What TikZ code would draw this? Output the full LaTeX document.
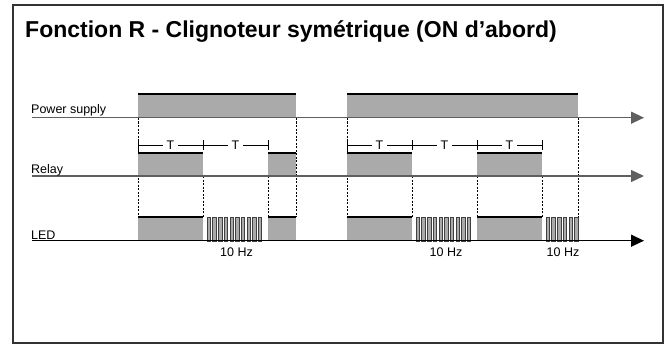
\documentclass[tikz,border=0pt]{standalone}
\usepackage{fontspec}
\setmainfont{Liberation Sans}
\usetikzlibrary{arrows.meta}

\definecolor{sigfill}{RGB}{170,170,170}
\definecolor{axisgray}{RGB}{95,95,95}

\tikzset{
  frame/.style={draw=black!80, line width=1.5pt},
  axis/.style={line width=1.3pt, -{Triangle[length=13pt,width=12pt]}},
  guide/.style={line width=0.7pt, dash pattern=on 2pt off 1.5pt},
  level/.style={fill=sigfill},
  edge/.style={line width=1.4pt},
  pulse/.style={fill=sigfill, draw=black!75, line width=0.6pt},
  lbl/.style={font=\fontsize{12.5}{14}\selectfont, inner sep=0pt},
  span/.style={line width=0.8pt},
}

% a high level of a signal: x from, x to, y top, y bottom
\newcommand{\onbox}[4]{%
  \fill[level] (#1,#3) rectangle (#2,#4);
  \draw[edge] (#1,#3) -- (#2,#3);
}
% 10 Hz blinking: x start, number of pulses
\newcommand{\blink}[2]{%
  \foreach \i in {1,...,#2}
    \draw[pulse] ({#1+4+(\i-1)*5.7},217) rectangle ++(3.4,24);
}
% period bracket labelled T
\newcommand{\tspan}[2]{%
  \draw[span] (#1,140) -- (#1,150) (#2,140) -- (#2,150);
  \draw[span] (#1,145) -- node[lbl, fill=white, inner xsep=3.5pt] {T} (#2,145);
}

\begin{document}
\begin{tikzpicture}[x=1pt, y=-1pt]
  \useasboundingbox (0,0) rectangle (670,345);
  \draw[frame] (13,5) rectangle (663,343);

  \node[anchor=base west, inner sep=0pt, font=\fontsize{23}{26}\selectfont\bfseries]
    (title) at (25,37.7) {Fonction R - Clignoteur symétrique (ON d’abord)};

  % axes
  \coordinate (ps-a) at (32,117.7);    \coordinate (ps-b) at (644,117.7);
  \coordinate (relay-a) at (32,176);   \coordinate (relay-b) at (644,176);
  \coordinate (led-a) at (32,240.7);   \coordinate (led-b) at (644,240.7);

  % guides
  \foreach \x in {138,296,347,578}
    \draw[guide] (\x,118) -- (\x,217);
  \foreach \x in {203,268,412,477,542}
    \draw[guide] (\x,176) -- (\x,217);

  % power supply
  \onbox{138}{296}{94}{117.7}
  \onbox{347}{578}{94}{117.7}

  % relay
  \onbox{138}{203}{153}{176}
  \onbox{268}{296}{153}{176}
  \onbox{347}{412}{153}{176}
  \onbox{477}{542}{153}{176}

  % periods
  \tspan{138}{203}
  \tspan{203}{268}
  \tspan{347}{412}
  \tspan{412}{477}
  \tspan{477}{542}

  % led
  \onbox{138}{203}{217}{240.7}
  \onbox{268}{296}{217}{240.7}
  \onbox{347}{412}{217}{240.7}
  \onbox{477}{542}{217}{240.7}
  \blink{203}{10}
  \blink{412}{10}
  \blink{542}{6}

  \draw[axis, axisgray] (ps-a) -- (ps-b);
  \draw[axis, axisgray] (relay-a) -- (relay-b);
  \draw[axis] (led-a) -- (led-b);

  \node[lbl, anchor=base west] (ps) at (31,113.3) {Power supply};
  \node[lbl, anchor=base west] (relay) at (31,173.3) {Relay};
  \node[lbl, anchor=base west] (led) at (31,239) {LED};

  \node[lbl, anchor=base] (hz1) at (236.5,256.7) {10 Hz};
  \node[lbl, anchor=base] (hz2) at (446,256.7) {10 Hz};
  \node[lbl, anchor=base] (hz3) at (563,256.7) {10 Hz};
\end{tikzpicture}
\end{document}
